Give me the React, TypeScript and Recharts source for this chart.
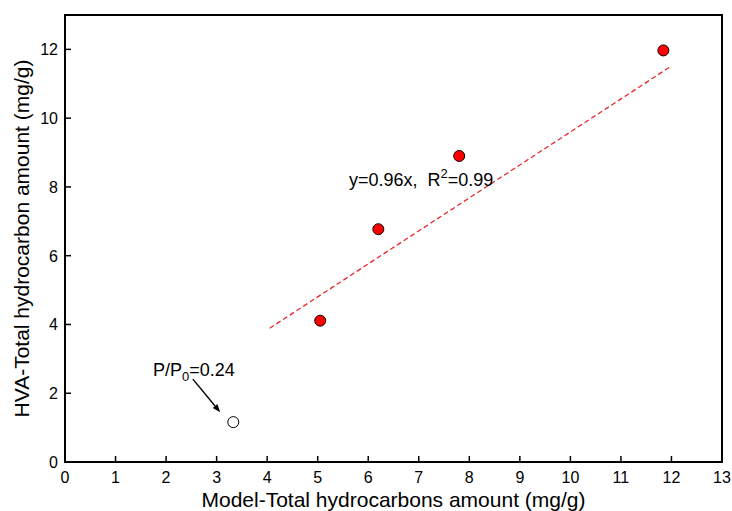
import {
  ScatterChart,
  Scatter,
  XAxis,
  YAxis,
  ReferenceArea,
  ReferenceLine,
  ReferenceDot,
} from 'recharts';

// measured points (model vs HVA)
const modelX = [5.05, 6.2, 7.8, 11.84];
const hvaY = [4.11, 6.77, 8.9, 11.97];

// low pressure point, open marker
const lowX = [3.33];
const lowY = [1.16];

// fitted line y = 0.96x, drawn between these x values
const fitX = [4.05, 11.96];
const fitY = [3.89, 11.48];

const xTicks = [0, 1, 2, 3, 4, 5, 6, 7, 8, 9, 10, 11, 12, 13];
const yTicks = [0, 2, 4, 6, 8, 10, 12];

const FONT = '"Liberation Sans", Arial, Helvetica, sans-serif';

const points = modelX.map((x, i) => ({ x, y: hvaY[i] }));
const lowPoints = lowX.map((x, i) => ({ x, y: lowY[i] }));
const fitLine = fitX.map((x, i) => ({ x, y: fitY[i] }));

const XTick = ({ x, y, payload }: any) => (
  <g>
    <line x1={x} x2={x} y1={y} y2={y - 6} stroke="#000" strokeWidth={1.5} />
    <text x={x} y={y + 21} textAnchor="middle" fontSize={16} fontFamily={FONT} fill="#000">
      {payload.value}
    </text>
  </g>
);

const YTick = ({ x, y, payload }: any) => (
  <g>
    <line x1={x} x2={x + 6} y1={y} y2={y} stroke="#000" strokeWidth={1.5} />
    <text x={x - 7} y={y + 6} textAnchor="end" fontSize={16} fontFamily={FONT} fill="#000">
      {payload.value}
    </text>
  </g>
);

const RedDot = ({ cx, cy }: any) => (
  <circle cx={cx} cy={cy} r={5.5} fill="#ff0000" stroke="#000" strokeWidth={1} />
);

const OpenDot = ({ cx, cy }: any) => (
  <circle cx={cx} cy={cy} r={5.5} fill="#fff" stroke="#000" strokeWidth={1} />
);

const Arrow = ({ x1, y1, x2, y2 }: any) => {
  const a = Math.atan2(y2 - y1, x2 - x1);
  const len = 8;
  const w = 3;
  const bx = x2 - len * Math.cos(a);
  const by = y2 - len * Math.sin(a);
  const px = -Math.sin(a) * w;
  const py = Math.cos(a) * w;
  return (
    <g>
      <line x1={x1} y1={y1} x2={bx} y2={by} stroke="#000" strokeWidth={1.4} />
      <polygon points={`${x2},${y2} ${bx + px},${by + py} ${bx - px},${by - py}`} fill="#000" />
    </g>
  );
};

const PressureText = ({ cx, cy }: any) => (
  <text x={cx} y={cy} fontSize={18} fontFamily={FONT} fill="#000">
    P/P
    <tspan fontSize={13} dy={5}>0</tspan>
    <tspan dy={-5}>=0.24</tspan>
  </text>
);

const FitText = ({ cx, cy }: any) => (
  <text x={cx} y={cy} fontSize={18} fontFamily={FONT} fill="#000" xmlSpace="preserve">
    {'y=0.96x,  R'}
    <tspan fontSize={13} dy={-8}>2</tspan>
    <tspan dy={8}>=0.99</tspan>
  </text>
);

export default function App() {
  return (
    <div style={{ position: 'absolute', left: 0, top: 0, background: '#fff' }}>
      <ScatterChart width={732} height={511} margin={{ top: 15, right: 10, left: 0, bottom: 0 }}>
        <XAxis
          type="number"
          dataKey="x"
          domain={[0, 13]}
          ticks={xTicks}
          interval={0}
          height={49}
          tickSize={0}
          tickMargin={0}
          tickLine={false}
          tick={XTick}
          axisLine={{ stroke: '#000', strokeWidth: 2 }}
          label={{
            value: 'Model-Total hydrocarbons amount (mg/g)',
            position: 'insideBottom',
            offset: 4,
            style: { fontSize: 21, fontFamily: FONT, fill: '#000' },
          }}
        />
        <YAxis
          type="number"
          dataKey="y"
          domain={[0, 13]}
          ticks={yTicks}
          interval={0}
          width={65}
          tickSize={0}
          tickMargin={0}
          tickLine={false}
          tick={YTick}
          axisLine={{ stroke: '#000', strokeWidth: 2 }}
          label={{
            value: 'HVA-Total hydrocarbon amount (mg/g)',
            angle: -90,
            position: 'insideLeft',
            offset: 0,
            dx: 22,
            style: { fontSize: 21, fontFamily: FONT, fill: '#000', textAnchor: 'middle' },
          }}
        />
        <ReferenceArea x1={0} x2={13} y1={0} y2={13} fill="none" stroke="#000" strokeWidth={2} />
        <Scatter
          data={fitLine}
          line={{ stroke: '#e8262b', strokeWidth: 1.3, strokeDasharray: '5 3' }}
          shape={() => <g />}
          isAnimationActive={false}
        />
        <Scatter data={points} shape={RedDot} isAnimationActive={false} />
        <Scatter data={lowPoints} shape={OpenDot} isAnimationActive={false} />
        <ReferenceLine
          segment={[
            { x: 2.53, y: 2.41 },
            { x: 3.07, y: 1.45 },
          ]}
          shape={Arrow}
        />
        <ReferenceDot x={1.74} y={2.5} r={0} shape={PressureText} />
        <ReferenceDot x={5.62} y={8.03} r={0} shape={FitText} />
      </ScatterChart>
    </div>
  );
}
